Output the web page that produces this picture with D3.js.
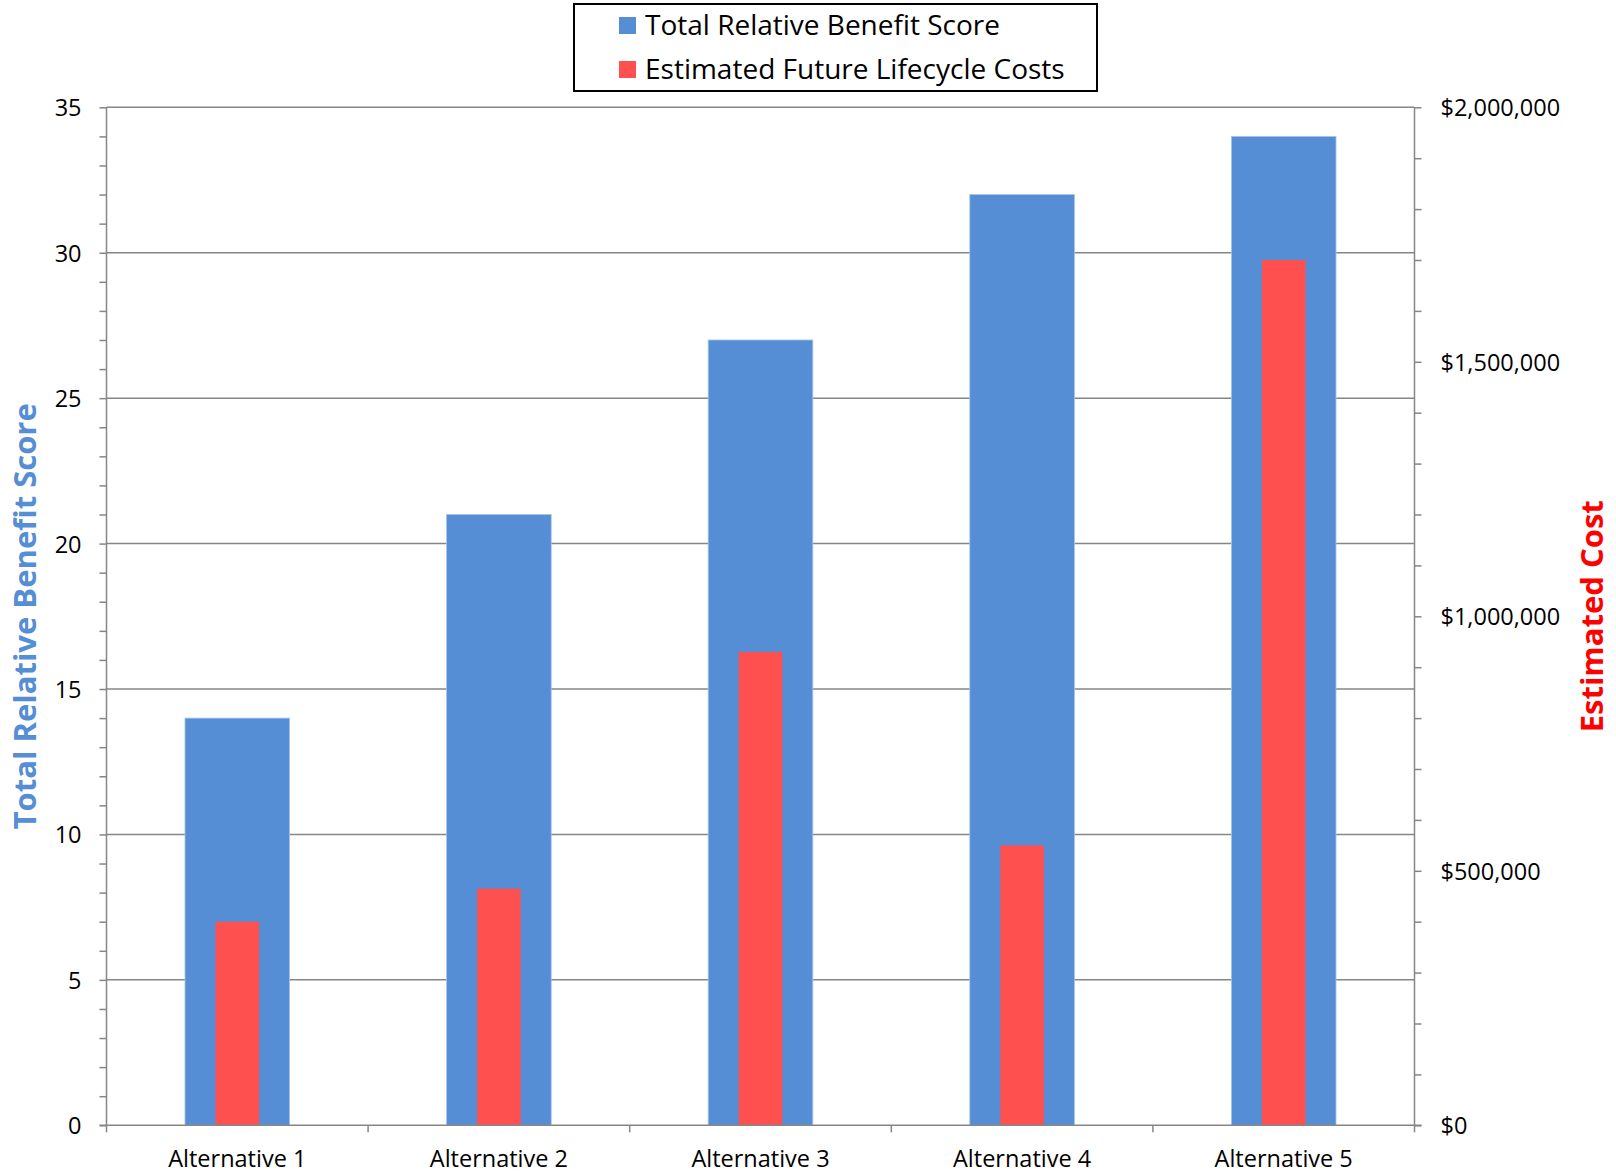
<!DOCTYPE html>
<html>
<head>
<meta charset="utf-8">
<script src="https://cdn.jsdelivr.net/npm/d3@7"></script>
<style>
  html, body { margin: 0; padding: 0; background: #fff; }
  svg { display: block; font-family: "Open Sans", "Noto Sans", sans-serif; }
</style>
</head>
<body>
<svg id="chart" width="1616" height="1174"></svg>
<script>
// Alternatives compared
const categories = ["Alternative 1", "Alternative 2", "Alternative 3", "Alternative 4", "Alternative 5"];
// Total relative benefit score (left axis)
const benefitScores = [14, 21, 27, 32, 34];
// Estimated future lifecycle costs in dollars (right axis)
const lifecycleCosts = [400000, 465000, 930000, 550000, 1700000];
// Tick values
const scoreTicks = [0, 5, 10, 15, 20, 25, 30, 35];
const costTicks = [0, 500000, 1000000, 1500000, 2000000];
const seriesNames = ["Total Relative Benefit Score", "Estimated Future Lifecycle Costs"];

const BLUE = "#558ED5";
const RED = "#FF5050";
const GREY = "#868686";

const svg = d3.select("#chart");
const plot = { left: 106.5, right: 1414.5, top: 107.3, bottom: 1125.3 };

const x = d3.scaleBand().domain(categories).range([plot.left, plot.right]).padding(0);
const yScore = d3.scaleLinear().domain([0, 35]).range([plot.bottom, plot.top]);
const yCost = d3.scaleLinear().domain([0, 2000000]).range([plot.bottom, plot.top]);

// Horizontal gridlines at the major score ticks
svg.append("g")
  .selectAll("line")
  .data(scoreTicks.filter(d => d > 0))
  .join("line")
  .attr("x1", plot.left).attr("x2", plot.right)
  .attr("y1", d => yScore(d)).attr("y2", d => yScore(d))
  .attr("stroke", GREY).attr("stroke-width", 1.5);

// Benefit bars (wide, behind)
const bw = x.bandwidth();
svg.append("g")
  .selectAll("rect")
  .data(categories)
  .join("rect")
  .attr("x", (d) => x(d) + bw * 0.3)
  .attr("width", bw * 0.4)
  .attr("y", (d, i) => yScore(benefitScores[i]))
  .attr("height", (d, i) => yScore(0) - yScore(benefitScores[i]))
  .attr("fill", BLUE)
  .attr("stroke", "#a9c4ea").attr("stroke-width", 0.8);

// Cost bars (narrow, in front)
svg.append("g")
  .selectAll("rect")
  .data(categories)
  .join("rect")
  .attr("x", (d) => x(d) + bw * (5 / 12))
  .attr("width", bw / 6)
  .attr("y", (d, i) => yCost(lifecycleCosts[i]))
  .attr("height", (d, i) => yCost(0) - yCost(lifecycleCosts[i]))
  .attr("fill", RED);

// Left axis
const leftAxis = d3.axisLeft(yScore)
  .tickValues(d3.range(0, 36, 1))
  .tickSize(7)
  .tickFormat(d => (d % 5 === 0 ? d : ""));
const gl = svg.append("g").attr("transform", `translate(${plot.left},0)`).call(leftAxis);
gl.select(".domain").attr("stroke", GREY).attr("stroke-width", 1.5).attr("d", `M0,${plot.top}V${plot.bottom}`);
gl.selectAll(".tick line").attr("stroke", GREY).attr("stroke-width", 1.5);
gl.selectAll(".tick text")
  .attr("x", -25).attr("dy", "0.36em")
  .attr("font-size", 23.5).attr("fill", "#000")
  .attr("font-family", "'Open Sans', sans-serif");

// Right axis
const fmtCost = d3.format("$,");
const rightAxis = d3.axisRight(yCost)
  .tickValues(d3.range(0, 2000001, 100000))
  .tickSize(7)
  .tickFormat(d => (d % 500000 === 0 ? fmtCost(d) : ""));
const gr = svg.append("g").attr("transform", `translate(${plot.right},0)`).call(rightAxis);
gr.select(".domain").attr("stroke", GREY).attr("stroke-width", 1.5).attr("d", `M0,${plot.top}V${plot.bottom}`);
gr.selectAll(".tick line").attr("stroke", GREY).attr("stroke-width", 1.5);
gr.selectAll(".tick text")
  .attr("x", 26).attr("dy", "0.36em")
  .attr("font-size", 23.5).attr("fill", "#000")
  .attr("font-family", "'Open Sans', sans-serif");

// Bottom axis: ticks at category boundaries, labels centred in each band
const gb = svg.append("g").attr("transform", `translate(0,${plot.bottom})`);
gb.append("line")
  .attr("x1", plot.left - 7).attr("x2", plot.right + 7)
  .attr("y1", 0).attr("y2", 0)
  .attr("stroke", GREY).attr("stroke-width", 1.5);
const boundaries = categories.map(c => x(c)).concat([plot.right]);
gb.selectAll("line.tk")
  .data(boundaries)
  .join("line")
  .attr("class", "tk")
  .attr("x1", d => d).attr("x2", d => d)
  .attr("y1", 0).attr("y2", 7)
  .attr("stroke", GREY).attr("stroke-width", 1.5);
gb.selectAll("text")
  .data(categories)
  .join("text")
  .attr("x", d => x(d) + bw / 2)
  .attr("y", 42)
  .attr("text-anchor", "middle")
  .attr("font-size", 23.5)
  .attr("fill", "#000")
  .text(d => d);

// Axis titles
svg.append("text")
  .attr("transform", `translate(36,${(plot.top + plot.bottom) / 2}) rotate(-90)`)
  .attr("text-anchor", "middle")
  .attr("font-size", 31).attr("font-weight", "bold")
  .attr("fill", BLUE)
  .text("Total Relative Benefit Score");
svg.append("text")
  .attr("transform", `translate(1603,${(plot.top + plot.bottom) / 2}) rotate(-90)`)
  .attr("text-anchor", "middle")
  .attr("font-size", 31).attr("font-weight", "bold")
  .attr("fill", "#FF0000")
  .text("Estimated Cost");

// Legend
const legend = svg.append("g");
legend.append("rect")
  .attr("x", 574).attr("y", 4).attr("width", 523).attr("height", 87)
  .attr("fill", "#fff").attr("stroke", "#000").attr("stroke-width", 2);
const legendColors = [BLUE, RED];
const items = legend.selectAll("g.item")
  .data(seriesNames)
  .join("g")
  .attr("class", "item")
  .attr("transform", (d, i) => `translate(619,${25 + i * 44})`);
items.append("rect")
  .attr("x", 0).attr("y", -8).attr("width", 17).attr("height", 17)
  .attr("fill", (d, i) => legendColors[i]);
items.append("text")
  .attr("x", 26).attr("y", 0).attr("dy", "0.36em")
  .attr("font-size", 28)
  .attr("fill", "#000")
  .text(d => d);
</script>
</body>
</html>
